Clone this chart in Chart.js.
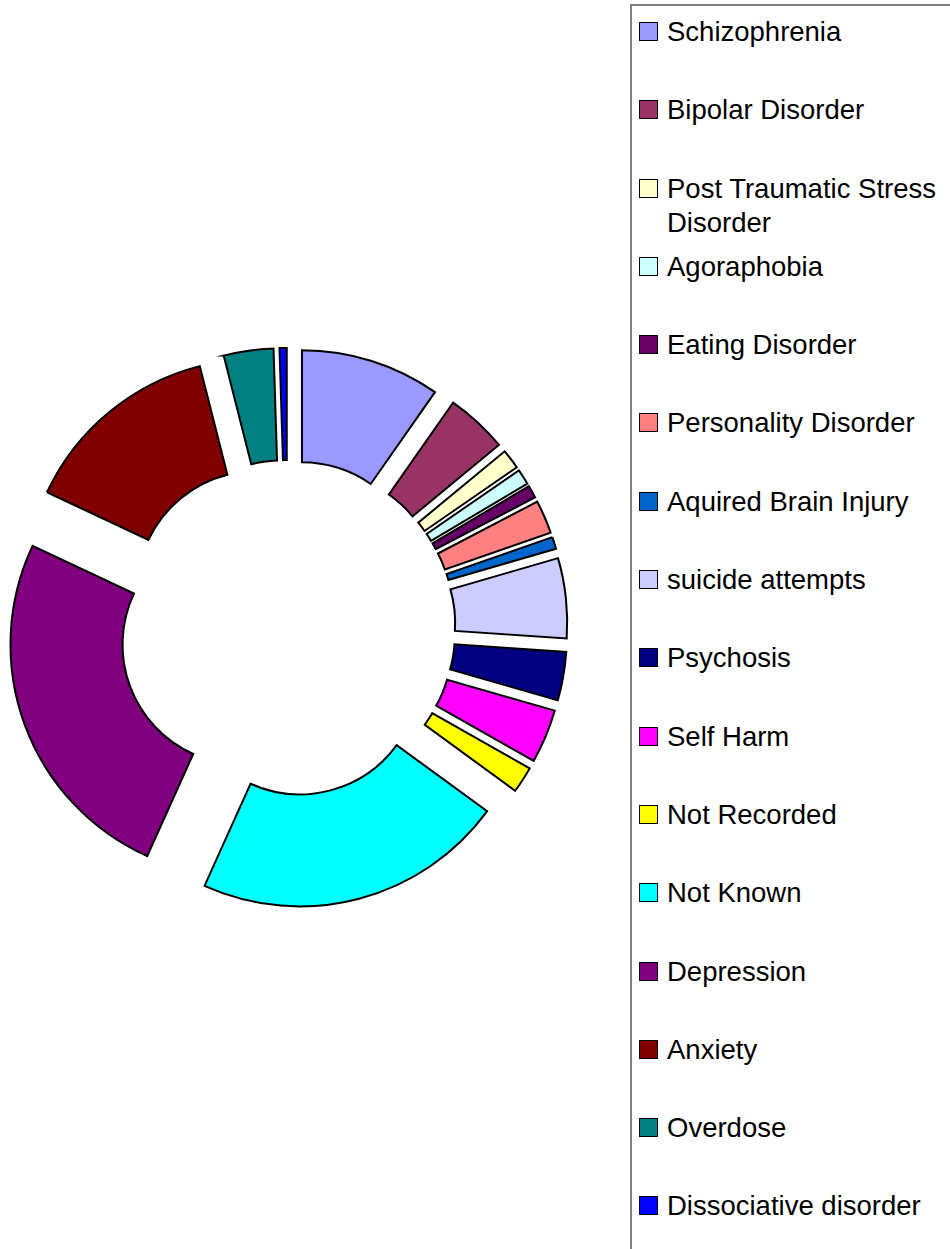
<!DOCTYPE html>
<html>
<head>
<meta charset="utf-8">
<script src="https://cdn.jsdelivr.net/npm/chart.js@4.4.0/dist/chart.umd.min.js"></script>
<style>
  html, body { margin: 0; padding: 0; background: #fff; }
  body { width: 950px; height: 1249px; position: relative; overflow: hidden; font-family: "Liberation Sans", Arial, sans-serif; }
  #chartBox { position: absolute; left: 0; top: 0; width: 575px; height: 1249px; }
  #legend { position: absolute; left: 630px; top: 4px; width: 340px; height: 1260px;
            border-left: 2px solid #808080; border-top: 2px solid #808080; box-sizing: border-box; }
  .item { position: absolute; left: 7px; display: flex; align-items: flex-start; }
  .swatch { width: 19px; height: 19px; border: 1px solid #000; box-sizing: border-box; margin-top: 7px; margin-right: 9px; flex: none; }
  .txt { font-size: 27.5px; line-height: 34px; color: #000; width: 283px; }
</style>
</head>
<body>
<div id="chartBox"><canvas id="grafico"></canvas></div>
<div id="legend"></div>
<script>
// categorias e valores (% dos casos)
const categorias = [
  "Schizophrenia", "Bipolar Disorder", "Post Traumatic Stress Disorder", "Agoraphobia",
  "Eating Disorder", "Personality Disorder", "Aquired Brain Injury", "suicide attempts",
  "Psychosis", "Self Harm", "Not Recorded", "Not Known", "Depression", "Anxiety",
  "Overdose", "Dissociative disorder"
];
const valores = [9.72, 4.29, 1.38, 1.08, 0.88, 2.32, 0.83, 5.57, 3.38, 3.75, 1.83, 21.7, 25.26, 14.04, 3.46, 0.5];
const cores = [
  "#9999FF", "#993366", "#FFFFCC", "#CCFFFF", "#660066", "#FF8080", "#0066CC", "#CCCCFF",
  "#000080", "#FF00FF", "#FFFF00", "#00FFFF", "#800080", "#800000", "#008080", "#0000FF"
];

const deslocamento = 48; // afastamento de cada fatia em px

// o offset nativo também aumenta o raio das fatias pequenas;
// aqui a fatia só é deslocada na direção do seu ângulo médio
class ArcoExplodido extends Chart.ArcElement {
  draw(ctx) {
    const meio = (this.startAngle + this.endAngle) / 2;
    ctx.save();
    ctx.translate(Math.cos(meio) * deslocamento, Math.sin(meio) * deslocamento);
    super.draw(ctx);
    ctx.restore();
  }
}
ArcoExplodido.id = "arcoExplodido";
ArcoExplodido.defaults = { ...Chart.ArcElement.defaults };

class RoscaExplodida extends Chart.DoughnutController {}
RoscaExplodida.id = "roscaExplodida";
RoscaExplodida.defaults = { ...Chart.DoughnutController.defaults, dataElementType: "arcoExplodido" };
RoscaExplodida.overrides = Chart.DoughnutController.overrides;

Chart.register(ArcoExplodido, RoscaExplodida);

const chart = new Chart(document.getElementById("grafico"), {
  type: "roscaExplodida",
  data: {
    labels: categorias,
    datasets: [{
      data: valores,
      backgroundColor: cores,
      borderColor: "#000",
      borderWidth: 2,
      borderJoinStyle: "miter",
      hoverOffset: 0
    }]
  },
  options: {
    responsive: true,
    maintainAspectRatio: false,
    animation: false,
    radius: 232,
    cutout: "51.7%",
    layout: { padding: { top: 7 } },
    events: [],
    plugins: { legend: { display: false }, tooltip: { enabled: false } }
  }
});

// legenda em html, a partir dos itens do próprio chart
const legenda = document.getElementById("legend");
Chart.DoughnutController.overrides.plugins.legend.labels.generateLabels(chart).forEach((item, i) => {
  const row = document.createElement("div");
  row.className = "item";
  row.style.top = (29.5 + 78.3 * i - 16.6 - 4) + "px";
  row.innerHTML = `<span class="swatch" style="background:${item.fillStyle}"></span><span class="txt">${item.text}</span>`;
  legenda.appendChild(row);
});
</script>
</body>
</html>
